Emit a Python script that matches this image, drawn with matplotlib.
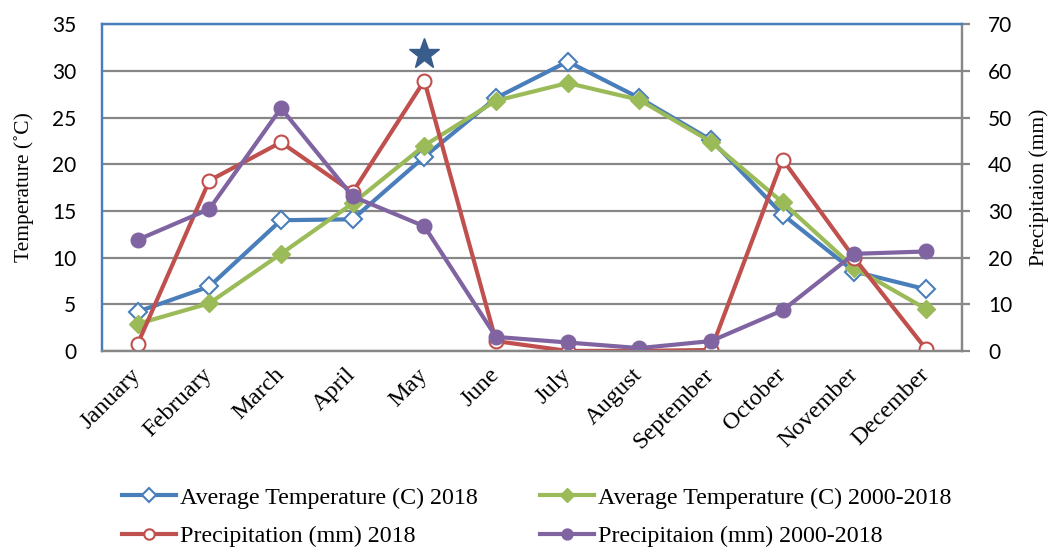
import matplotlib.pyplot as plt

months = ["January", "February", "March", "April", "May", "June", "July",
          "August", "September", "October", "November", "December"]

temp_2018 = [4.2, 6.9, 14.0, 14.1, 20.8, 27.1, 31.0, 27.1, 22.6, 14.6, 8.5, 6.6]
temp_avg = [2.9, 5.1, 10.4, 15.8, 22.0, 26.8, 28.7, 26.9, 22.4, 15.9, 8.9, 4.5]
precip_2018 = [1.5, 36.5, 44.7, 34.0, 57.9, 2.1, 0.0, 0.0, 0.2, 41.0, 19.9, 0.4]
precip_avg = [23.8, 30.4, 52.0, 33.1, 26.7, 3.0, 1.8, 0.6, 2.1, 8.7, 20.8, 21.3]

star_month = 4  # May
star_value = 31.8

BLUE = "#4a7ebb"
GREEN = "#9bbb59"
RED = "#c0504d"
PURPLE = "#8064a2"
GRID = "#878787"

serif = ["Liberation Serif", "DejaVu Serif"]
sans = ["Lato", "DejaVu Sans"]

fig = plt.figure(figsize=(10.5, 5.5), dpi=100)
ax = fig.add_axes([0.097, 0.362, 0.819, 0.594])
ax2 = ax.twinx()

x = list(range(len(months)))

l1, = ax.plot(x, temp_2018, color=BLUE, lw=3, marker="D", ms=9, mfc="white",
              mec=BLUE, mew=1.5, label="Average Temperature (C) 2018", zorder=3)
l2, = ax.plot(x, temp_avg, color=GREEN, lw=3, marker="D", ms=9, mfc=GREEN,
              mec=GREEN, label="Average Temperature (C) 2000-2018", zorder=4)
ax.plot([star_month], [star_value], marker="*", ms=23, color="#385d8a",
        ls="none", zorder=5)

l3, = ax2.plot(x, precip_2018, color=RED, lw=3, marker="o", ms=10, mfc="white",
               mec=RED, mew=1.5, label="Precipitation (mm) 2018")
l4, = ax2.plot(x, precip_avg, color=PURPLE, lw=3, marker="o", ms=10.5,
               mfc=PURPLE, mec=PURPLE, label="Precipitaion (mm) 2000-2018")

ax.set_xlim(-0.5, 11.5)
ax.set_ylim(0, 35)
ax2.set_ylim(0, 70)
ax.set_yticks(range(0, 36, 5))
ax2.set_yticks(range(0, 71, 10))

ax.yaxis.grid(True, color=GRID, lw=1.6)
ax.set_axisbelow(True)

for a in (ax, ax2):
    a.spines["left"].set_color(BLUE)
    a.spines["top"].set_color(BLUE)
    a.spines["right"].set_color(GRID)
    a.spines["bottom"].set_color(GRID)
    for s in a.spines.values():
        s.set_linewidth(1.6)

ax.tick_params(axis="y", length=0, pad=18.5, labelsize=15)
ax2.tick_params(axis="y", length=6, width=1.6, color=GRID, pad=13, labelsize=15)
for lab in ax.get_yticklabels() + ax2.get_yticklabels():
    lab.set_family(sans)

ax.set_xticks(x)
ax.set_xticklabels(months, rotation=45, ha="right", va="center",
                   rotation_mode="anchor", family=serif, fontsize=17.5)
ax.tick_params(axis="x", length=0, pad=15)

ax.set_ylabel("Temperature (˚C)", family=serif, fontsize=15.5, labelpad=13)
ax2.set_ylabel("Precipitaion (mm)", family=serif, fontsize=15.5, labelpad=12)

fig.legend(handles=[l1, l3, l2, l4], ncol=2, loc="center",
           bbox_to_anchor=(0.511, 0.06), frameon=False,
           prop={"family": serif, "size": 17.3}, handlelength=2.25,
           handletextpad=0.17, columnspacing=2.6, labelspacing=0.7,
           markerscale=0.75)

fig.savefig("out.png", dpi=100)
